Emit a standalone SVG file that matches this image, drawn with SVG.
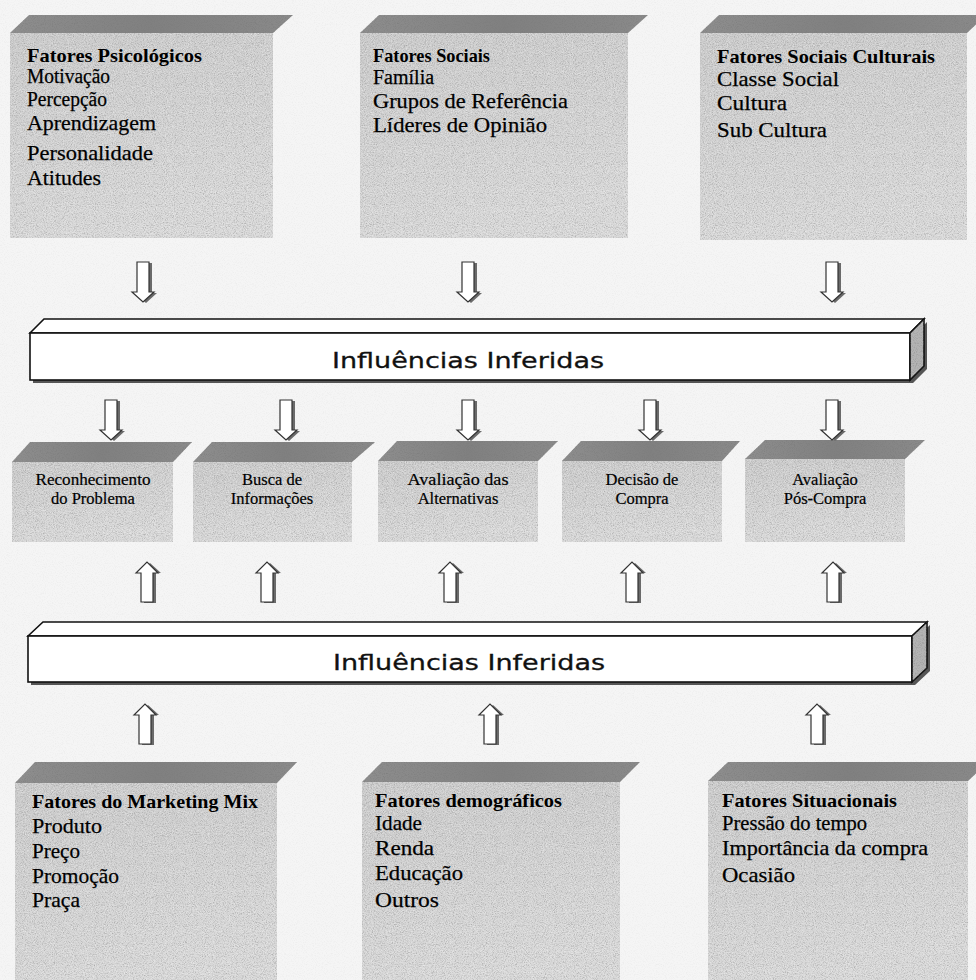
<svg xmlns="http://www.w3.org/2000/svg" width="976" height="980" viewBox="0 0 976 980">
<defs>
  <filter id="speck" x="0" y="0" width="1" height="1">
    <feTurbulence type="fractalNoise" baseFrequency="0.9" numOctaves="2" seed="7"/>
    <feColorMatrix type="matrix" values="0 0 0 0 0.2  0 0 0 0 0.2  0 0 0 0 0.2  2.0 0 0 0 -0.9"/>
    <feComposite in2="SourceAlpha" operator="in"/>
  </filter>
  <filter id="speckLight" x="0" y="0" width="1" height="1">
    <feTurbulence type="fractalNoise" baseFrequency="0.95" numOctaves="2" seed="11"/>
    <feColorMatrix type="matrix" values="0 0 0 0 1  0 0 0 0 1  0 0 0 0 1  2.0 0 0 0 -0.9"/>
    <feComposite in2="SourceAlpha" operator="in"/>
  </filter>
  <linearGradient id="front" x1="0" y1="0" x2="0.3" y2="1">
    <stop offset="0" stop-color="#cbcbcb"/>
    <stop offset="1" stop-color="#d9d9d9"/>
  </linearGradient>
  <linearGradient id="topf" x1="0" y1="0" x2="1" y2="0">
    <stop offset="0" stop-color="#8e8e8e"/>
    <stop offset="0.5" stop-color="#808080"/>
    <stop offset="1" stop-color="#8a8a8a"/>
  </linearGradient>
  <g id="arrDown">
    <path d="M-3,1 h12 v30 h5 l-11,10 l-11,-10 h5 z" fill="#6a6a6a"/>
    <path d="M-6,0 h12 v30 h5 l-11,10 l-11,-10 h5 z" fill="#ffffff" stroke="#333" stroke-width="1.2" stroke-linejoin="miter"/>
  </g>
  <g id="arrUp">
    <path d="M-3,41 h12 v-30 h5 l-11,-10 l-11,10 h5 z" fill="#6a6a6a"/>
    <path d="M-6,40 h12 v-29 h5 l-11,-11 l-11,11 h5 z" fill="#ffffff" stroke="#333" stroke-width="1.2" stroke-linejoin="miter"/>
  </g>
</defs>
<style>
  .front { fill: url(#front); }
  .top { fill: url(#topf); }
  .grain { fill: #000; filter: url(#speck); opacity: 0.55; }
  .grainT { fill: #000; filter: url(#speck); opacity: 0.9; }
  .grainL { fill: #000; filter: url(#speckLight); opacity: 0.5; }
  .h { font-family: "Liberation Serif", "Times New Roman", serif; font-weight: bold; font-size: 19px; fill: #000; }
  .t { font-family: "Liberation Serif", "Times New Roman", serif; font-size: 21px; fill: #000; stroke: #000; stroke-width: 0.25; }
  .s { font-family: "Liberation Serif", "Times New Roman", serif; font-size: 16.5px; fill: #000; stroke: #000; stroke-width: 0.2; text-anchor: middle; }
  .bar { fill: #ffffff; stroke: #111; stroke-width: 1.6; stroke-linejoin: miter; }
  .side { fill: #b4b4b4; stroke: #111; stroke-width: 1.6; }
  .shadow { fill: #555; }
  .bt { font-family: "DejaVu Sans", "Noto Sans", sans-serif; font-size: 22px; fill: #111; stroke: #111; stroke-width: 0.3; text-anchor: middle; }
</style>

<rect x="0" y="0" width="976" height="980" fill="#f5f5f5"/>
<rect x="0" y="0" width="976" height="980" fill="#000" filter="url(#speck)" opacity="0.08"/>

<!-- Top row boxes -->
<g id="fatores-psicologicos">
  <rect x="10" y="33" width="263" height="205" class="front"/>
  <rect x="10" y="33" width="263" height="205" class="grain"/>
  <rect x="10" y="33" width="263" height="205" class="grainL"/>
  <polygon points="10,33 29,15 293,15 273,33" class="top"/>
  <polygon points="10,33 29,15 293,15 273,33" class="grainT"/>
  <text x="27" y="62" class="h" textLength="175" lengthAdjust="spacingAndGlyphs">Fatores Psicológicos</text>
  <text x="27" y="83" class="t" style="font-size:20px" textLength="83" lengthAdjust="spacingAndGlyphs">Motivação</text>
  <text x="27" y="106" class="t" style="font-size:20px" textLength="80" lengthAdjust="spacingAndGlyphs">Percepção</text>
  <text x="27" y="130" class="t" style="font-size:22px" textLength="129" lengthAdjust="spacingAndGlyphs">Aprendizagem</text>
  <text x="27" y="160" class="t" style="font-size:22px" textLength="126" lengthAdjust="spacingAndGlyphs">Personalidade</text>
  <text x="27" y="185" class="t" style="font-size:22px" textLength="74" lengthAdjust="spacingAndGlyphs">Atitudes</text>
</g>

<g id="fatores-sociais">
  <rect x="360" y="33" width="268" height="205" class="front"/>
  <rect x="360" y="33" width="268" height="205" class="grain"/>
  <rect x="360" y="33" width="268" height="205" class="grainL"/>
  <polygon points="360,33 379,15 648,15 628,33" class="top"/>
  <polygon points="360,33 379,15 648,15 628,33" class="grainT"/>
  <text x="373" y="62" class="h" textLength="117" lengthAdjust="spacingAndGlyphs">Fatores Sociais</text>
  <text x="373" y="84" class="t" style="font-size:20px">Família</text>
  <text x="373" y="108" class="t" style="font-size:21px" textLength="195" lengthAdjust="spacingAndGlyphs">Grupos de Referência</text>
  <text x="373" y="132" class="t" style="font-size:21px" textLength="174" lengthAdjust="spacingAndGlyphs">Líderes de Opinião</text>
</g>

<g id="fatores-sociais-culturais">
  <rect x="700" y="33" width="267" height="207" class="front"/>
  <rect x="700" y="33" width="267" height="207" class="grain"/>
  <rect x="700" y="33" width="267" height="207" class="grainL"/>
  <polygon points="700,33 719,15 986,15 967,33" class="top"/>
  <polygon points="700,33 719,15 986,15 967,33" class="grainT"/>
  <text x="717" y="63" class="h" textLength="218" lengthAdjust="spacingAndGlyphs">Fatores Sociais Culturais</text>
  <text x="717" y="86" class="t" style="font-size:22px" textLength="122" lengthAdjust="spacingAndGlyphs">Classe Social</text>
  <text x="717" y="110" class="t" style="font-size:22px" textLength="70" lengthAdjust="spacingAndGlyphs">Cultura</text>
  <text x="717" y="137" class="t" style="font-size:22px" textLength="110" lengthAdjust="spacingAndGlyphs">Sub Cultura</text>
</g>

<!-- Bar 1 -->
<g id="influencias-inferidas-1">
  <polygon points="33,336 913,336 927,322 927,369 913,383 33,383" class="shadow"/>
  <polygon points="30,333 44,319 924,319 910,333" class="bar"/>
  <rect x="30" y="333" width="880" height="47" class="bar"/>
  <polygon points="910,333 924,319 924,366 910,380" class="side"/>
  <polygon points="910,333 924,319 924,366 910,380" class="grain"/>
  <text x="468" y="368" class="bt" textLength="272" lengthAdjust="spacingAndGlyphs">Influências Inferidas</text>
</g>

<!-- Middle row boxes -->
<g id="reconhecimento">
  <rect x="12" y="462" width="161" height="80" class="front"/>
  <rect x="12" y="462" width="161" height="80" class="grain"/>
  <rect x="12" y="462" width="161" height="80" class="grainL"/>
  <polygon points="12,462 30,442 192,442 173,462" class="top"/>
  <polygon points="12,462 30,442 192,442 173,462" class="grainT"/>
  <text x="93" y="485" class="s" textLength="115" lengthAdjust="spacingAndGlyphs">Reconhecimento</text>
  <text x="93" y="504" class="s">do Problema</text>
</g>
<g id="busca">
  <rect x="193" y="462" width="159" height="80" class="front"/>
  <rect x="193" y="462" width="159" height="80" class="grain"/>
  <rect x="193" y="462" width="159" height="80" class="grainL"/>
  <polygon points="193,462 212,442 375,442 352,462" class="top"/>
  <polygon points="193,462 212,442 375,442 352,462" class="grainT"/>
  <text x="272" y="485" class="s">Busca de</text>
  <text x="272" y="504" class="s">Informações</text>
</g>
<g id="avaliacao-alternativas">
  <rect x="378" y="461" width="160" height="81" class="front"/>
  <rect x="378" y="461" width="160" height="81" class="grain"/>
  <rect x="378" y="461" width="160" height="81" class="grainL"/>
  <polygon points="378,461 397,441 558,441 538,461" class="top"/>
  <polygon points="378,461 397,441 558,441 538,461" class="grainT"/>
  <text x="458" y="485" class="s" textLength="101" lengthAdjust="spacingAndGlyphs">Avaliação das</text>
  <text x="458" y="504" class="s">Alternativas</text>
</g>
<g id="decisao">
  <rect x="562" y="461" width="160" height="81" class="front"/>
  <rect x="562" y="461" width="160" height="81" class="grain"/>
  <rect x="562" y="461" width="160" height="81" class="grainL"/>
  <polygon points="562,461 581,441 740,441 722,461" class="top"/>
  <polygon points="562,461 581,441 740,441 722,461" class="grainT"/>
  <text x="642" y="485" class="s">Decisão de</text>
  <text x="642" y="504" class="s">Compra</text>
</g>
<g id="avaliacao-pos">
  <rect x="745" y="459" width="160" height="83" class="front"/>
  <rect x="745" y="459" width="160" height="83" class="grain"/>
  <rect x="745" y="459" width="160" height="83" class="grainL"/>
  <polygon points="745,459 765,440 925,440 905,459" class="top"/>
  <polygon points="745,459 765,440 925,440 905,459" class="grainT"/>
  <text x="825" y="485" class="s">Avaliação</text>
  <text x="825" y="504" class="s">Pós-Compra</text>
</g>

<!-- Bar 2 -->
<g id="influencias-inferidas-2">
  <polygon points="31,639 915,639 930,625 930,671 915,685 31,685" class="shadow"/>
  <polygon points="28,636 43,622 927,622 912,636" class="bar"/>
  <rect x="28" y="636" width="884" height="46" class="bar"/>
  <polygon points="912,636 927,622 927,668 912,682" class="side"/>
  <polygon points="912,636 927,622 927,668 912,682" class="grain"/>
  <text x="469" y="670" class="bt" textLength="272" lengthAdjust="spacingAndGlyphs">Influências Inferidas</text>
</g>

<!-- Bottom row boxes -->
<g id="marketing-mix">
  <rect x="15" y="783" width="262" height="197" class="front"/>
  <rect x="15" y="783" width="262" height="197" class="grain"/>
  <rect x="15" y="783" width="262" height="197" class="grainL"/>
  <polygon points="15,783 35,762 297,762 277,783" class="top"/>
  <polygon points="15,783 35,762 297,762 277,783" class="grainT"/>
  <text x="32" y="808" class="h" textLength="226" lengthAdjust="spacingAndGlyphs">Fatores do Marketing Mix</text>
  <text x="32" y="833" class="t" style="font-size:22px" textLength="70" lengthAdjust="spacingAndGlyphs">Produto</text>
  <text x="32" y="858" class="t" style="font-size:22px" textLength="48" lengthAdjust="spacingAndGlyphs">Preço</text>
  <text x="32" y="883" class="t" style="font-size:22px" textLength="87" lengthAdjust="spacingAndGlyphs">Promoção</text>
  <text x="32" y="907" class="t" style="font-size:22px" textLength="48" lengthAdjust="spacingAndGlyphs">Praça</text>
</g>
<g id="demograficos">
  <rect x="362" y="782" width="258" height="198" class="front"/>
  <rect x="362" y="782" width="258" height="198" class="grain"/>
  <rect x="362" y="782" width="258" height="198" class="grainL"/>
  <polygon points="362,782 382,762 640,762 620,782" class="top"/>
  <polygon points="362,782 382,762 640,762 620,782" class="grainT"/>
  <text x="375" y="807" class="h" textLength="187" lengthAdjust="spacingAndGlyphs">Fatores demográficos</text>
  <text x="375" y="830" class="t" style="font-size:21px" textLength="47" lengthAdjust="spacingAndGlyphs">Idade</text>
  <text x="375" y="855" class="t" style="font-size:21px" textLength="59" lengthAdjust="spacingAndGlyphs">Renda</text>
  <text x="375" y="880" class="t" style="font-size:21px" textLength="88" lengthAdjust="spacingAndGlyphs">Educação</text>
  <text x="375" y="907" class="t" style="font-size:22px" textLength="64" lengthAdjust="spacingAndGlyphs">Outros</text>
</g>
<g id="situacionais">
  <rect x="708" y="781" width="260" height="199" class="front"/>
  <rect x="708" y="781" width="260" height="199" class="grain"/>
  <rect x="708" y="781" width="260" height="199" class="grainL"/>
  <polygon points="708,781 728,762 988,762 968,781" class="top"/>
  <polygon points="708,781 728,762 988,762 968,781" class="grainT"/>
  <text x="722" y="807" class="h" textLength="175" lengthAdjust="spacingAndGlyphs">Fatores Situacionais</text>
  <text x="722" y="830" class="t" style="font-size:20px" textLength="145" lengthAdjust="spacingAndGlyphs">Pressão do tempo</text>
  <text x="722" y="855" class="t" style="font-size:21px" textLength="206" lengthAdjust="spacingAndGlyphs">Importância da compra</text>
  <text x="722" y="882" class="t" style="font-size:21px" textLength="73" lengthAdjust="spacingAndGlyphs">Ocasião</text>
</g>

<!-- Connectors -->
<g id="connectors">
  <use href="#arrDown" x="143" y="262"/>
  <use href="#arrDown" x="468" y="262"/>
  <use href="#arrDown" x="832" y="262"/>
  <use href="#arrDown" x="111" y="400"/>
  <use href="#arrDown" x="286" y="400"/>
  <use href="#arrDown" x="468" y="400"/>
  <use href="#arrDown" x="650" y="400"/>
  <use href="#arrDown" x="832" y="400"/>
  <use href="#arrUp" x="147" y="562"/>
  <use href="#arrUp" x="267" y="562"/>
  <use href="#arrUp" x="450" y="562"/>
  <use href="#arrUp" x="632" y="562"/>
  <use href="#arrUp" x="833" y="562"/>
  <use href="#arrUp" x="145" y="704"/>
  <use href="#arrUp" x="490" y="704"/>
  <use href="#arrUp" x="817" y="704"/>
</g>
</svg>
